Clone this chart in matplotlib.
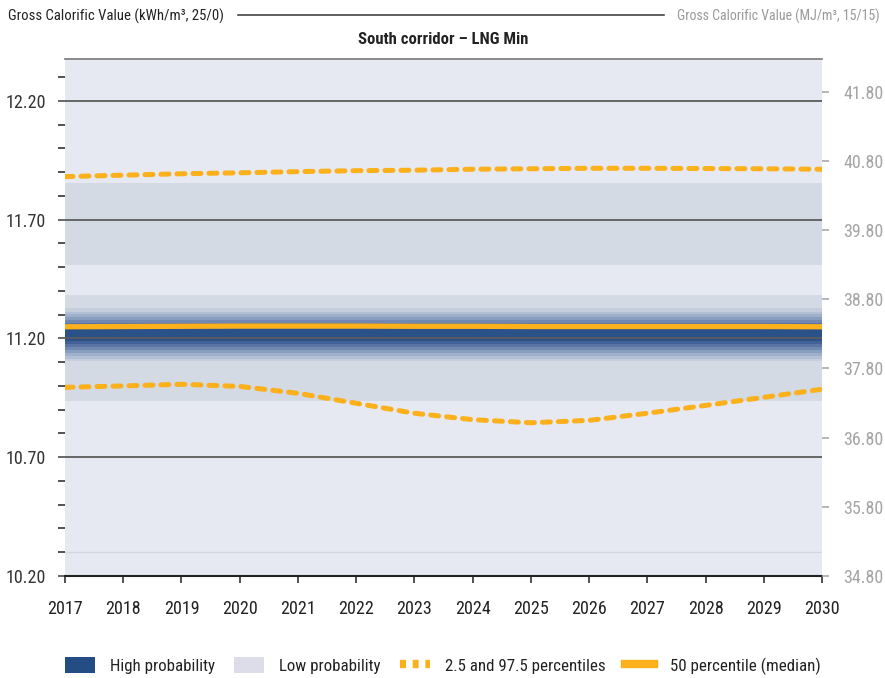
import matplotlib
matplotlib.use("Agg")
import matplotlib.pyplot as plt
from matplotlib.patches import Patch
from matplotlib.lines import Line2D
import numpy as np

plt.rcParams['font.family'] = ['Roboto Condensed', 'DejaVu Sans']

# ---- data -------------------------------------------------------------
years = [2017, 2018, 2019, 2020, 2021, 2022, 2023, 2024, 2025, 2026, 2027, 2028, 2029, 2030]
p975 = [11.881, 11.887, 11.893, 11.897, 11.902, 11.906, 11.908, 11.912, 11.914, 11.916,
        11.916, 11.915, 11.914, 11.912]
p025 = [10.994, 11.000, 11.007, 10.998, 10.969, 10.927, 10.885, 10.858, 10.845, 10.855,
        10.885, 10.918, 10.952, 10.986]
p50 = [11.249, 11.250, 11.251, 11.252, 11.252, 11.252, 11.251, 11.251, 11.250, 11.250,
       11.250, 11.250, 11.250, 11.249]

# probability density bands (lower / upper edges), outermost first
low_bands_lo = [11.507, 10.935]
low_bands_hi = [11.855, 11.381]
core_bands_lo = [11.103, 11.112, 11.124, 11.137, 11.150, 11.162, 11.175, 11.187]
core_bands_hi = [11.326, 11.313, 11.301, 11.288, 11.276, 11.263, 11.250, 11.238]
tail_floor = 10.303

kwh_ticks = [10.20, 10.70, 11.20, 11.70, 12.20]
mj_ticks = [34.80, 35.80, 36.80, 37.80, 38.80, 39.80, 40.80, 41.80]

# ---- styling ----------------------------------------------------------
bg = '#e6e9f1'
low_col = '#d3dae4'
core_cols = ['#c4cedc', '#b2c0d5', '#9eb0ca', '#889ebf', '#7189b2', '#5a75a4', '#426196', '#2a5188']
orange = '#fbb01c'
dark_blue = '#244d84'

fig = plt.figure(figsize=(8.85, 6.78), dpi=100)
ax = fig.add_axes([65 / 885, 1 - 576 / 678, (822 - 65) / 885, (576 - 59) / 678])
ax.set_facecolor(bg)

ylo, yhi = 10.20, 12.376
ax.set_xlim(years[0], years[-1])
ax.set_ylim(ylo, yhi)

n = len(years)
for lo, hi in zip(low_bands_lo, low_bands_hi):
    ax.fill_between(years, [lo] * n, [hi] * n, color=low_col, lw=0, zorder=1)
for lo, hi, c in zip(core_bands_lo, core_bands_hi, core_cols):
    ax.fill_between(years, [lo] * n, [hi] * n, color=c, lw=0, zorder=2)
ax.axhline(tail_floor, color='#d2d6e0', lw=0.9, zorder=2)

# grid lines
for v in kwh_ticks[1:]:
    ax.axhline(v, color='#5c5c5c', lw=1.3, zorder=3)

# percentile lines
ax.plot(years, p975, color=orange, lw=3.6, linestyle=(0, (1.6, 1.6)),
        dash_capstyle='round', zorder=5)
ax.plot(years, p025, color=orange, lw=3.6, linestyle=(0, (1.6, 1.6)),
        dash_capstyle='round', zorder=5)
ax.plot(years, p50, color=orange, lw=3.8, solid_capstyle='butt', zorder=5)

# axes cosmetics
for s in ['left', 'right']:
    ax.spines[s].set_visible(False)
ax.spines['top'].set_color('#777777')
ax.spines['top'].set_linewidth(1.2)
ax.spines['bottom'].set_color('#222222')
ax.spines['bottom'].set_linewidth(1.5)

ax.set_xticks(years)
ax.set_xticklabels([str(y) for y in years], fontsize=13, color='#222222')
ax.tick_params(axis='x', length=5, width=1.2, color='#333333', pad=12, direction='out')

ax.set_yticks(kwh_ticks)
ax.set_yticklabels([f'{v:.2f}' for v in kwh_ticks], fontsize=13, color='#333333')
ax.set_yticks(np.arange(10.3, 12.36, 0.1), minor=True)
ax.tick_params(axis='y', which='major', length=5, width=1.3, color='#5c5c5c', pad=8.5)
ax.tick_params(axis='y', which='minor', length=5, width=1.2, color='#333333')

ax2 = ax.twinx()
scale = 3.435
ax2.set_ylim(34.80, 34.80 + (yhi - ylo) * scale)
ax2.set_yticks(mj_ticks)
ax2.set_yticklabels([f'{v:.2f}' for v in mj_ticks], fontsize=13, color='#a5a5a5')
ax2.tick_params(axis='y', length=5, width=1.2, color='#aaaaaa', pad=10.5)
for s in ax2.spines.values():
    s.set_visible(False)

# header
fig.text(8 / 885, 1 - 16 / 678, 'Gross Calorific Value (kWh/m³, 25/0)', fontsize=10.6,
         color='#222222', ha='left', va='center')
fig.text(880 / 885, 1 - 16 / 678, 'Gross Calorific Value (MJ/m³, 15/15)', fontsize=10,
         color='#9a9a9a', ha='right', va='center')
fig.add_artist(Line2D([238 / 885, 664 / 885], [1 - 15 / 678, 1 - 15 / 678],
                      color='#333333', lw=1.1, transform=fig.transFigure))
fig.text(443.5 / 885, 1 - 40 / 678, 'South corridor – LNG Min', fontsize=12,
         fontweight='bold', color='#222222', ha='center', va='center')

# legend
handles = [
    Patch(facecolor=dark_blue, edgecolor='none'),
    Patch(facecolor='#dcdde9', edgecolor='none'),
    Line2D([], [], color=orange, lw=6, linestyle=(0, (0.72, 0.8))),
    Line2D([], [], color=orange, lw=6),
]
labels = ['High probability', 'Low probability', '2.5 and 97.5 percentiles', '50 percentile (median)']
fig.legend(handles, labels, loc='center left', bbox_to_anchor=(65 / 885, 1 - 666 / 678),
           ncol=4, frameon=False, fontsize=12.2, handlelength=1.75, handleheight=1.1,
           handletextpad=0.9, columnspacing=1.14, borderpad=0, borderaxespad=0,
           labelcolor='#222222')

fig.savefig('out.png', dpi=100, facecolor='white')
